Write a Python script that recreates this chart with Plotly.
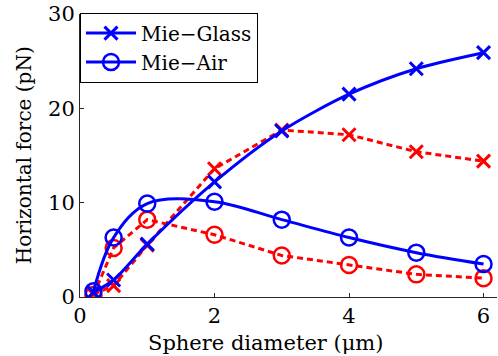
import plotly.graph_objects as go

x = [0.2, 0.5, 1, 2, 3, 4, 5, 6]
glass_mie = [0.5, 1.8, 5.6, 12.2, 17.6, 21.5, 24.2, 25.9]
glass_red = [0.3, 1.2, 5.5, 13.6, 17.7, 17.2, 15.4, 14.4]
air_mie = [0.6, 6.3, 9.9, 10.1, 8.2, 6.3, 4.7, 3.5]
air_red = [0.2, 5.2, 8.2, 6.6, 4.4, 3.4, 2.4, 2.0]

x_ticks = [0, 2, 4, 6]
y_ticks = [0, 10, 20, 30]

BLUE = "#0000ff"
RED = "#ff0000"
FONT = "DejaVu Serif"

fig = go.Figure()

fig.add_trace(go.Scatter(
    x=x, y=glass_red, mode="lines+markers", showlegend=False,
    line=dict(color=RED, width=3, dash="6px,4px"),
    marker=dict(symbol="x-thin", size=13, line=dict(color=RED, width=3)),
))
fig.add_trace(go.Scatter(
    x=x, y=air_red, mode="lines+markers", showlegend=False,
    line=dict(color=RED, width=3, dash="6px,4px"),
    marker=dict(symbol="circle-open", size=16, color=RED, line=dict(color=RED, width=2.5)),
))
fig.add_trace(go.Scatter(
    x=x, y=glass_mie, mode="lines+markers", name="Mie\u2212Glass",
    line=dict(color=BLUE, width=3, shape="spline", smoothing=0.8),
    marker=dict(symbol="x-thin", size=13, line=dict(color=BLUE, width=3)),
))
fig.add_trace(go.Scatter(
    x=x, y=air_mie, mode="lines+markers", name="Mie\u2212Air",
    line=dict(color=BLUE, width=3, shape="spline", smoothing=1),
    marker=dict(symbol="circle-open", size=16, color=BLUE, line=dict(color=BLUE, width=2.5)),
))

axis_common = dict(
    showgrid=False, zeroline=False, showline=True, linecolor="#262626", linewidth=1,
    ticks="inside", ticklen=4, tickwidth=1, tickcolor="#262626",
    tickfont=dict(family=FONT, size=21, color="black"),
)

fig.update_layout(
    width=498, height=356,
    margin=dict(l=80, r=1, t=14, b=59),
    paper_bgcolor="white", plot_bgcolor="white",
    font=dict(family=FONT, color="black"),
    xaxis=dict(range=[0, 6.2], tickvals=x_ticks, **axis_common),
    yaxis=dict(range=[0, 30], tickvals=y_ticks, **axis_common),
    legend=dict(
        x=0, y=1.005, xanchor="left", yanchor="top",
        bordercolor="black", borderwidth=1, bgcolor="white",
        font=dict(family=FONT, size=20, color="black"),
        tracegroupgap=0, itemwidth=50,
    ),
    annotations=[
        dict(text="Sphere diameter (\u03bcm)", xref="paper", yref="paper",
             x=0.446, y=-0.162, xanchor="center", yanchor="middle",
             showarrow=False, font=dict(family=FONT, size=21, color="black")),
        dict(text="Horizontal force (pN)", xref="paper", yref="paper",
             x=-0.135, y=0.5, xanchor="center", yanchor="middle", textangle=-90,
             showarrow=False, font=dict(family=FONT, size=20, color="black")),
    ],
)

fig.write_html("out.html")
